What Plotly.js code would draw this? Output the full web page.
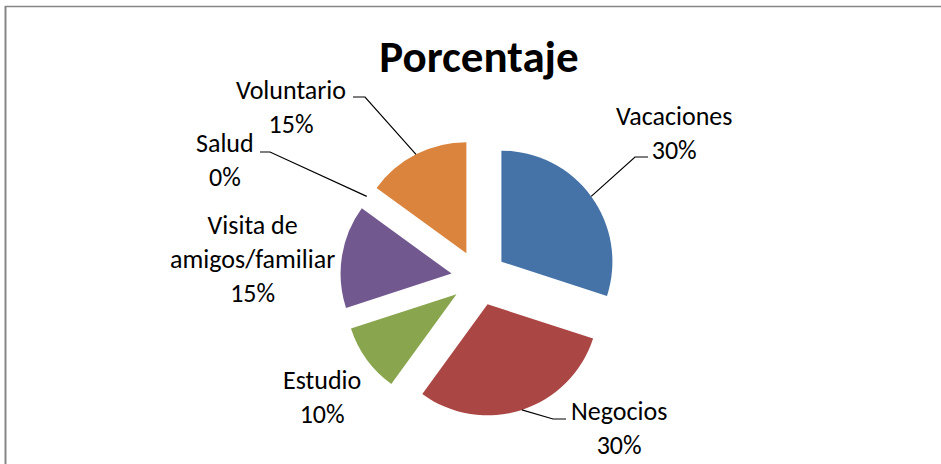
<!DOCTYPE html>
<html>
<head>
<meta charset="utf-8">
<script src="https://cdn.plot.ly/plotly-3.0.1.min.js"></script>
<style>html,body{margin:0;padding:0;background:#fff;}#chart{width:941px;height:464px;}</style>
</head>
<body>
<div id="chart"></div>
<script>
// ---- data ----
const categories = ['Vacaciones', 'Negocios', 'Estudio', 'Visita de amigos/familiar', 'Salud', 'Voluntario'];
const values = [30, 30, 10, 15, 0, 15];
const labelLines = ['Vacaciones', 'Negocios', 'Estudio', 'Visita de<br>amigos/familiar', 'Salud', 'Voluntario'];
const colors = ['#4572A7', '#AA4643', '#89A54E', '#71588F', '#4198AF', '#DB843D'];
const chartTitle = 'Porcentaje';

// ---- layout config (pixels) ----
const W = 941, H = 464;
const FONT = 'Carlito, Lato, sans-serif';
const PULL = 0.25;
const domX = [0.3615, 0.6565];
const domY = [0.102, 0.700];
const labelPos = [[674, 133], [619, 428], [322, 397], [253, 259], [225, 160], [291, 107]];
// leader elbows: [tickStartX, tickY, elbowX] or null
const leaders = [[648, 157, 635], [566, 419, 553], null, null, [260, 152, 270], [353, 97, 365]];

const px = x => x / W;
const py = y => 1 - y / H;

const total = values.reduce((a, b) => a + b, 0);
const cx = W * (domX[0] + domX[1]) / 2;
const cy = H * (1 - (domY[0] + domY[1]) / 2);
const outer = Math.min(W * (domX[1] - domX[0]), H * (domY[1] - domY[0])) / 2;

const annotations = [];
const shapes = [];
let cum = 0;
values.forEach((v, i) => {
  const mid = (cum + v / 2) / total * 2 * Math.PI;
  cum += v;
  const pct = Math.round(v / total * 100) + '%';
  annotations.push({
    text: labelLines[i] + '<br>' + pct,
    x: px(labelPos[i][0]), y: py(labelPos[i][1]), xref: 'paper', yref: 'paper',
    xanchor: 'center', yanchor: 'middle', showarrow: false, align: 'center',
    font: {family: FONT, size: 26, color: '#000'}
  });
  if (leaders[i]) {
    const ex = cx + outer * Math.sin(mid);
    const ey = cy - outer * Math.cos(mid);
    const [sx, sy, bx] = leaders[i];
    shapes.push({
      type: 'path', xref: 'paper', yref: 'paper',
      path: `M ${px(sx)} ${py(sy)} L ${px(bx)} ${py(sy)} L ${px(ex)} ${py(ey)}`,
      line: {color: '#000', width: 1.2}
    });
  }
});

// chart border (top and left edges visible)
shapes.push({type: 'line', xref: 'paper', yref: 'paper', x0: px(5), x1: px(941), y0: py(6.5), y1: py(6.5), line: {color: '#868686', width: 1.5}});
shapes.push({type: 'line', xref: 'paper', yref: 'paper', x0: px(5.5), x1: px(5.5), y0: py(6), y1: py(464), line: {color: '#868686', width: 2}});

const trace = {
  type: 'pie',
  labels: categories,
  values: values,
  sort: false,
  direction: 'clockwise',
  rotation: 0,
  pull: values.map(() => PULL),
  marker: {colors: colors, line: {width: 0}},
  textinfo: 'none',
  hoverinfo: 'none',
  showlegend: false,
  domain: {x: domX, y: domY}
};

const layout = {
  width: W, height: H,
  margin: {l: 0, r: 0, t: 0, b: 0},
  paper_bgcolor: '#fff',
  title: {
    text: '<b>' + chartTitle + '</b>',
    x: px(479), y: py(56), xref: 'paper', yref: 'paper',
    xanchor: 'center', yanchor: 'middle',
    font: {family: FONT, size: 45, color: '#000'}
  },
  annotations: annotations,
  shapes: shapes,
  showlegend: false
};

Plotly.newPlot('chart', [trace], layout, {displayModeBar: false, staticPlot: true});
</script>
</body>
</html>
